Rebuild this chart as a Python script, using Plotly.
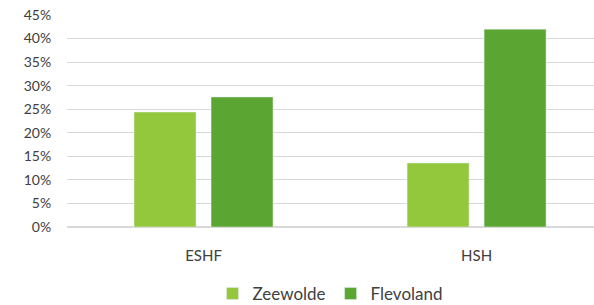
import plotly.graph_objects as go

categories = ["ESHF", "HSH"]
zeewolde = [24.4, 13.6]
flevoland = [27.6, 42.0]
y_ticks = [0, 5, 10, 15, 20, 25, 30, 35, 40, 45]
y_tick_labels = ["0%", "5%", "10%", "15%", "20%", "25%", "30%", "35%", "40%", "45%"]

fig = go.Figure()
fig.add_trace(go.Bar(name="Zeewolde", x=categories, y=zeewolde, marker_color="#94c83c"))
fig.add_trace(go.Bar(name="Flevoland", x=categories, y=flevoland, marker_color="#5ba633"))

fig.update_layout(
    width=594, height=305,
    margin=dict(l=67, r=0, t=15, b=78, autoexpand=False),
    paper_bgcolor="white", plot_bgcolor="white",
    barmode="group", bargap=0.436, bargroupgap=0.195,
    font=dict(family="Lato", color="#404040", size=13),
    showlegend=True,
    legend=dict(orientation="h", x=0.5, xanchor="center", y=-0.316, yanchor="middle",
                font=dict(size=17), itemwidth=30, traceorder="normal"),
)
fig.update_xaxes(range=[-0.5, 1.43], showgrid=False, showline=False, zeroline=False,
                 ticks="outside", ticklen=15, tickcolor="rgba(0,0,0,0)", tickfont=dict(size=15),
                 automargin=False)
fig.update_yaxes(range=[0, 45], tickmode="array", tickvals=y_ticks, ticktext=y_tick_labels,
                 showgrid=True, gridcolor="#d9d9d9", zeroline=True, zerolinecolor="#d9d9d9",
                 ticks="outside", ticklen=12, tickcolor="rgba(0,0,0,0)", tickfont=dict(size=14),
                 automargin=False)

# remove the page's default 8px body margin so the figure fills the window exactly
fig.write_html("out.html", config={"displayModeBar": False},
               post_script="document.body.style.margin='0';")
